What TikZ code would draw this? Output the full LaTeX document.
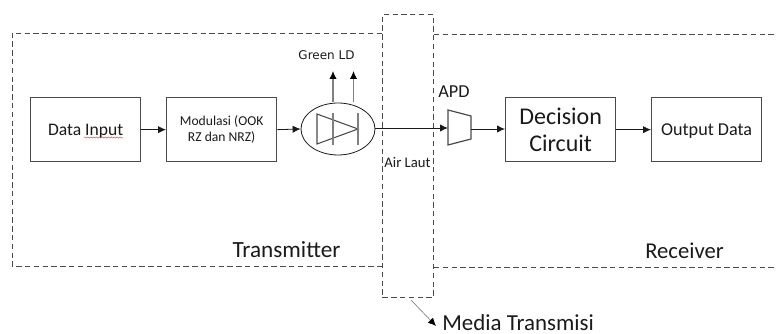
\documentclass[tikz,border=0pt]{standalone}
\usepackage{fontspec}
\setmainfont{Carlito}
\newfontfamily\vfont{DejaVu Sans}
\usetikzlibrary{arrows.meta,decorations.pathmorphing,shapes.geometric}
\definecolor{lin}{HTML}{4A4A4A}
\definecolor{txt}{HTML}{1A1A1A}
\tikzset{
 box/.style={draw=lin,line width=1pt,minimum width=82.5pt,minimum height=48pt,inner sep=0pt,align=center,text=txt,anchor=north west},
 region/.style={draw=lin,line width=0.7pt,dash pattern=on 4pt off 2.6pt},
 conn/.style={draw=txt,line width=0.6pt,-{Latex[length=6pt,width=5.5pt]}},
 gconn/.style={draw=gray,line width=0.8pt,-{Latex[length=6pt,width=5.5pt,color=black]}},
 lbl/.style={text=txt,inner sep=0pt}
}
\begin{document}
\begin{tikzpicture}[x=0.75pt,y=-0.75pt]
\useasboundingbox (0,0) rectangle (776,334);
% dashed regions
\coordinate (tl1) at (382,33);\coordinate (tl2) at (12,33);\coordinate (tl3) at (12,266);\coordinate (tl4) at (382,266);
\coordinate (tr1) at (434,34);\coordinate (tr2) at (776,34);\coordinate (tr3) at (434,267);\coordinate (tr4) at (776,267);
\draw[region] (tl1) -- (tl2) -- (tl3) -- (tl4);
\draw[region] (tr1) -- (tr2);
\draw[region] (tr3) -- (tr4);
\node[region,minimum width=38.25pt,minimum height=212.25pt,inner sep=0pt,anchor=north west] (media) at (382,14) {};
% boxes
\node[box,font=\fontsize{13.2}{15}\selectfont] (data) at (30,97) {\raisebox{-4.5pt}[0pt][0pt]{Data Input}};
\draw[red!80!white,line width=0.35pt,decorate,decoration={snake,amplitude=0.45pt,segment length=2.2pt}] (84,137.5) -- (123,137.5);
\node[box,font=\fontsize{10.2}{12.4}\selectfont] (mod) at (166,97) {Modulasi (OOK\\RZ dan NRZ)};
\node[box,font=\fontsize{18}{20.5}\selectfont] (dec) at (505,97) {Decision\\Circuit};
\node[box,font=\fontsize{13.6}{15}\selectfont] (out) at (651,97) {\raisebox{-4.5pt}[0pt][0pt]{Output Data}};
% LD
\node[draw=txt,line width=0.6pt,ellipse,minimum width=55.5pt,minimum height=39pt,inner sep=0pt] (ld) at (338,129) {};
\draw[draw=lin,line width=0.8pt] (317,114) -- (317,144) -- (358,129) -- cycle;
\coordinate (b1t) at (333,113);\coordinate (b1b) at (333,145);
\coordinate (b2t) at (358,113);\coordinate (b2b) at (358,145);
\draw[gray,line width=0.8pt] (b1t) -- (b1b);
\draw[gray,line width=0.8pt] (b2t) -- (b2b);
\coordinate (u1s) at (333,102);\coordinate (u1e) at (333,71);
\coordinate (u2s) at (353.5,102);\coordinate (u2e) at (353.5,71);
\draw[gconn] (u1s) -- (u1e);
\draw[gconn] (u2s) -- (u2e);
\node[lbl,font=\fontsize{9}{11}\selectfont\vfont] (gl) at (326.5,55.5) {Green LD};
% APD
\coordinate (a1) at (448,110);\coordinate (a2) at (471,116);\coordinate (a3) at (471,139);\coordinate (a4) at (448,145);
\draw[draw=lin,line width=0.9pt] (a1) -- (a2) -- (a3) -- (a4) -- cycle;
\coordinate (ain) at (448,128);\coordinate (aout) at (471,129);
\node[lbl,font=\fontsize{13.7}{15}\selectfont] (apd) at (454,92) {APD};
% connectors
\draw[conn] (data.east) -- (mod.west);
\draw[conn] (mod.east) -- (ld.west);
\draw[conn] (ld.east |- ain) -- (ain);
\draw[conn] (aout) -- (aout -| dec.west);
\draw[conn] (dec.east) -- (out.west);
% labels
\node[lbl,font=\fontsize{11}{13}\selectfont] (air) at (407.5,163) {Air Laut};
\node[lbl,font=\fontsize{17.4}{19}\selectfont] (tx) at (286.5,250) {Transmitter};
\node[lbl,font=\fontsize{17}{19}\selectfont] (rx) at (684.5,251) {Receiver};
\node[lbl,font=\fontsize{17.2}{19}\selectfont,anchor=base west] (mt) at (442,331) {Media Transmisi};
\coordinate (ms) at (411,300);
\coordinate (me) at (436,326);
\draw[gconn,line width=0.5pt] (ms) -- (me);
\end{tikzpicture}
\end{document}
